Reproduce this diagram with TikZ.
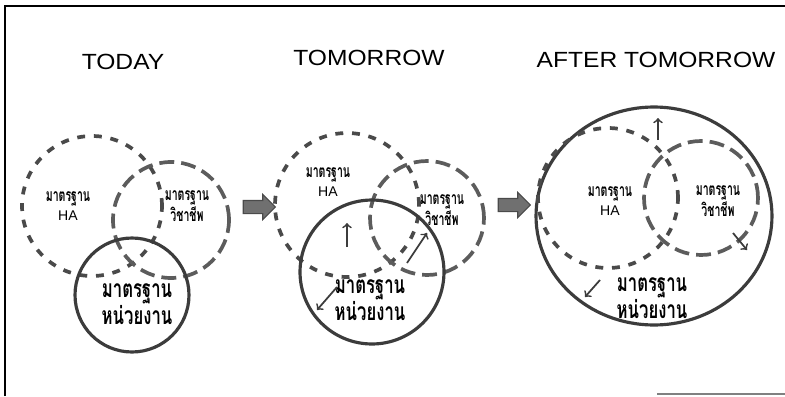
\documentclass[tikz,border=0pt]{standalone}
\usepackage{fontspec}
\setmainfont{Liberation Sans}
\newfontfamily\stagefont[FakeStretch=1.12]{Liberation Sans}
\newfontfamily\thaifont[Script=Thai,FakeStretch=0.6]{Loma}
\newfontfamily\thaibig[Script=Thai,FakeStretch=0.68]{Loma}
\usetikzlibrary{shapes.geometric,shapes.arrows}
\definecolor{hagray}{HTML}{4A4A4A}
\definecolor{vcgray}{HTML}{5C5C5C}
\definecolor{ungray}{HTML}{3C3C3C}
\definecolor{arrgray}{HTML}{707070}
\tikzset{
  stage/.style={font=\stagefont\fontsize{12.5}{15}\selectfont},
  hacirc/.style={circle,draw=hagray,line width=2.1pt,dash pattern=on 4.5pt off 5pt},
  vccirc/.style={circle,draw=vcgray,line width=2.1pt,dash pattern=on 8.5pt off 4pt},
  uncirc/.style={circle,draw=ungray,line width=1.8pt},
  smalllbl/.style={align=center,font=\fontsize{10}{10.5}\selectfont\bfseries},
  biglbl/.style={align=center,font=\fontsize{14}{12}\selectfont\bfseries},
  blockarrow/.style={single arrow,draw=hagray,fill=arrgray,line width=0.6pt,
    inner sep=0.12cm,single arrow head extend=0.12cm,minimum height=0.64cm},
  growarrow/.style={->,line width=1pt,draw=ungray}
}
\newcommand{\halbl}{{\fontsize{8}{10.5}\selectfont\mdseries HA}}
\begin{document}
\begin{tikzpicture}[x=0.02cm,y=-0.02cm]
  \useasboundingbox (0,0) rectangle (785,396);
  \draw[line width=0.8pt] (5,396) -- (5,6) -- (785,6);
  \draw[line width=0.8pt,draw=gray] (657,394) -- (785,394);

  \node[stage] (today) at (123,62) {TODAY};
  \node[stage] (tomorrow) at (369,58) {TOMORROW};
  \node[stage] (after) at (656,60) {AFTER TOMORROW};

  \node[hacirc,minimum size=2.8cm] (ha1) at (92,206) {};
  \node[vccirc,minimum size=2.32cm] (vc1) at (171,220) {};
  \node[uncirc,minimum size=2.28cm] (un1) at (132,295) {};
  \node[smalllbl] (lha1) at (68,206) {{\thaifont มาตรฐาน}\\\halbl};
  \node[smalllbl] (lvc1) at (187,206) {\thaifont มาตรฐาน\\\thaifont วิชาชีพ};
  \node[biglbl] (lun1) at (137,304) {\thaibig มาตรฐาน\\\thaibig หน่วยงาน};

  \node[blockarrow] (arr1) at (256,207) {};

  \node[hacirc,minimum size=2.88cm] (ha2) at (347,205) {};
  \node[vccirc,minimum size=2.28cm] (vc2) at (427,218) {};
  \node[uncirc,minimum size=2.88cm] (un2) at (372,272) {};
  \node[smalllbl] (lha2) at (328,182) {{\thaifont มาตรฐาน}\\\halbl};
  \node[smalllbl] (lvc2) at (442,210) {\thaifont มาตรฐาน\\\thaifont วิชาชีพ};
  \node[biglbl] (lun2) at (370,300) {\thaibig มาตรฐาน\\\thaibig หน่วยงาน};
  \coordinate (up2) at (347,247);
  \coordinate (dg2) at (407,263);
  \coordinate (ll2) at (337,287);
  \draw[growarrow] (up2) -- ++(0,-24);
  \draw[growarrow] (dg2) -- ++(20,-30);
  \draw[growarrow] (ll2) -- ++(-20,23);

  \node[blockarrow] (arr2) at (511,205) {};

  \node[ellipse,draw=ungray,line width=1.8pt,minimum width=4.72cm,minimum height=4.36cm] (big3) at (654,216) {};
  \node[hacirc,minimum size=2.8cm] (ha3) at (608,198) {};
  \node[vccirc,minimum size=2.28cm] (vc3) at (701,198) {};
  \node[smalllbl] (lha3) at (610,201) {{\thaifont มาตรฐาน}\\\halbl};
  \node[smalllbl] (lvc3) at (718,201) {\thaifont มาตรฐาน\\\thaifont วิชาชีพ};
  \node[biglbl] (lun3) at (652,298) {\thaibig มาตรฐาน\\\thaibig หน่วยงาน};
  \coordinate (up3) at (658,140);
  \coordinate (dr3) at (733,233);
  \coordinate (ll3) at (600,280);
  \draw[growarrow] (up3) -- ++(0,-22);
  \draw[growarrow] (dr3) -- ++(14,17);
  \draw[growarrow] (ll3) -- ++(-15,17);
\end{tikzpicture}
\end{document}
